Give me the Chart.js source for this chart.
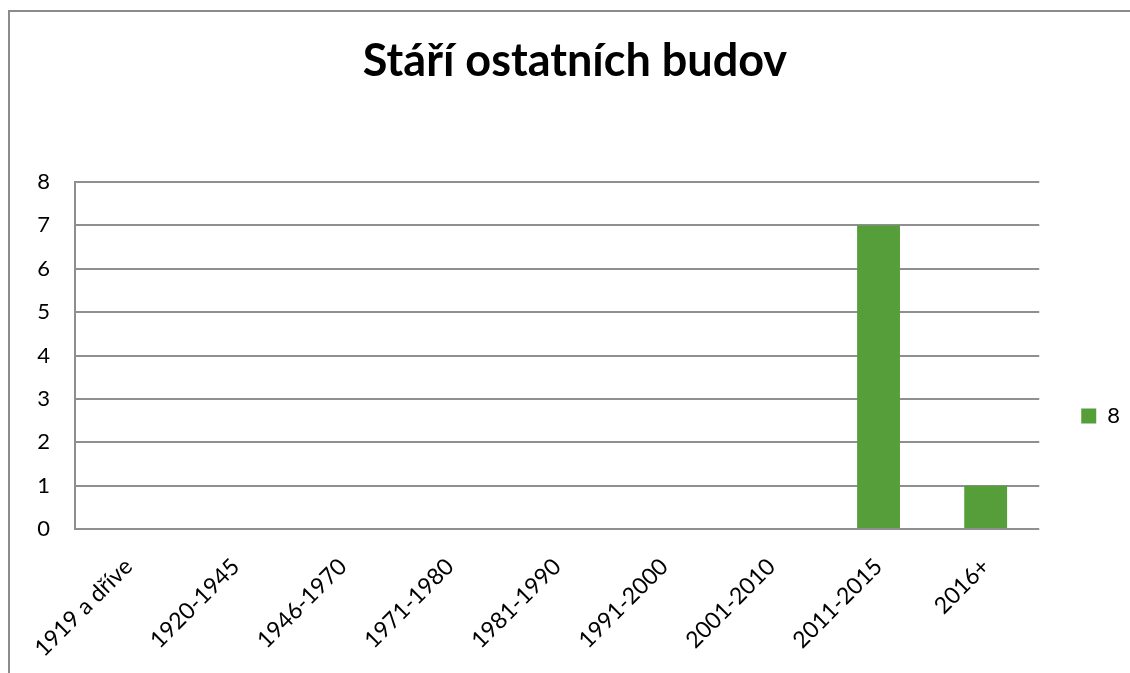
<!DOCTYPE html>
<html>
<head>
<meta charset="utf-8">
<script src="https://cdn.jsdelivr.net/npm/chart.js@4/dist/chart.umd.min.js"></script>
<style>
  html, body { margin: 0; padding: 0; background: #fff; }
  #wrap { position: relative; width: 1130px; height: 673px; overflow: hidden; }
  #frame { position: absolute; left: 8px; top: 10px; width: 1200px; height: 700px;
           border-left: 2px solid #8b8b8b; border-top: 2px solid #8b8b8b; }
  #myChart { position: absolute; left: 0; top: 0; }
</style>
</head>
<body>
<div id="wrap">
  <div id="frame"></div>
  <canvas id="myChart" width="1130" height="673"></canvas>
</div>
<script>
const chartTitle = "Stáří ostatních budov";
const categories = ["1919 a dříve", "1920-1945", "1946-1970", "1971-1980", "1981-1990",
                    "1991-2000", "2001-2010", "2011-2015", "2016+"];
const seriesName = "8";
const seriesValues = [0, 0, 0, 0, 0, 0, 0, 7, 1];
const yTicks = [0, 1, 2, 3, 4, 5, 6, 7, 8];

const gridColor = "#8f8f8f";
const barColor = "#559e3a";
const fontFamily = "Lato, 'Open Sans', sans-serif";

const ctx = document.getElementById("myChart").getContext("2d");

const chart = new Chart(ctx, {
  type: "bar",
  data: {
    labels: categories,
    datasets: [{
      label: seriesName,
      data: seriesValues,
      backgroundColor: barColor,
      borderWidth: 0,
      categoryPercentage: 1,
      barPercentage: 0.4
    }]
  },
  options: {
    responsive: false,
    animation: false,
    layout: { padding: { left: 20, right: 0, top: 0, bottom: 0 } },
    plugins: {
      tooltip: { enabled: false },
      title: {
        display: true,
        text: chartTitle,
        color: "#000",
        font: { family: fontFamily, size: 45, weight: "bold" },
        padding: { top: 34, bottom: 94 }
      },
      legend: {
        position: "right",
        maxWidth: 92,
        title: { display: true, text: " ", font: { size: 10 }, padding: { top: 73, bottom: 74 } },
        labels: {
          boxWidth: 15,
          boxHeight: 15,
          padding: 42,
          color: "#000",
          font: { family: fontFamily, size: 22 }
        }
      }
    },
    scales: {
      x: {
        grid: { display: false, drawTicks: false },
        border: { display: false },
        ticks: {
          color: "#000",
          font: { family: fontFamily, size: 23 },
          minRotation: 45,
          maxRotation: 45,
          padding: 24
        },
        afterFit: s => { s.height = 144; }
      },
      y: {
        min: 0,
        max: 8,
        afterBuildTicks: s => { s.ticks = yTicks.map(v => ({ value: v })); },
        grid: { color: gridColor, lineWidth: 2, drawTicks: false },
        border: { display: true, color: gridColor, width: 2 },
        ticks: {
          color: "#000",
          font: { family: fontFamily, size: 22 },
          padding: 25
        },
        afterFit: s => { s.width = 55; }
      }
    }
  }
});
</script>
</body>
</html>
